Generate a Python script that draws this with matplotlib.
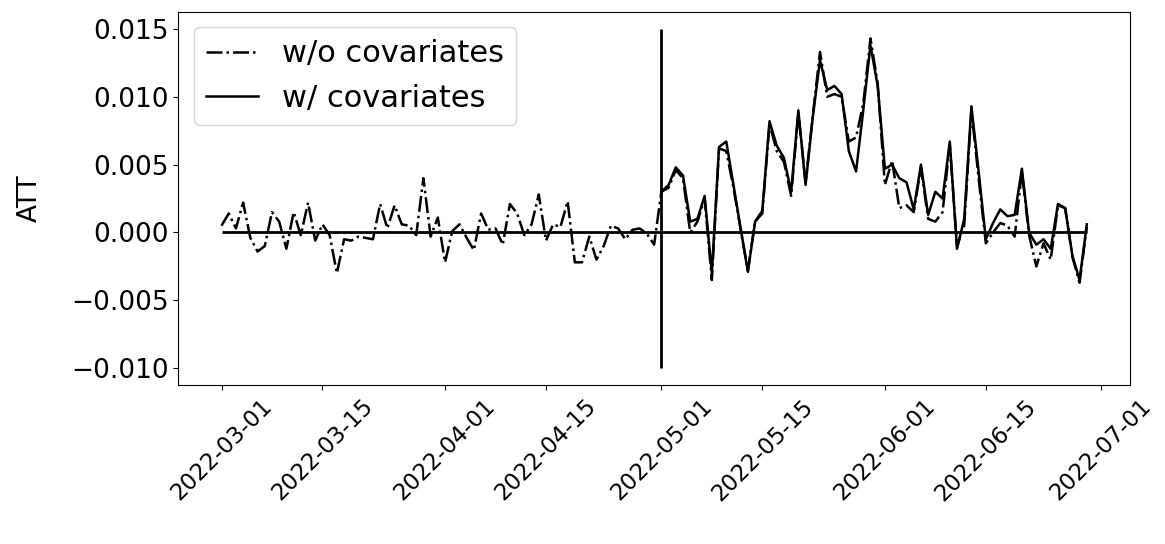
import matplotlib
matplotlib.use('Agg')
import matplotlib.pyplot as plt
import matplotlib.dates as mdates
import numpy as np
import pandas as pd

# daily dates, 2022-03-01 .. 2022-06-29
dates = pd.date_range('2022-03-01', '2022-06-29', freq='D')
treat_date = pd.Timestamp('2022-05-01')

# ATT without covariates (whole period)
att_wo = [
    0.0005, 0.0014, 0.0003, 0.0022, -0.0004, -0.0014, -0.0010, 0.0015, 0.0008, -0.0012,
    0.0015, -0.0002, 0.0022, -0.0006, 0.0006, -0.0002, -0.0030, -0.0005, -0.0006, -0.0003,
    -0.0004, -0.0005, 0.0021, 0.0003, 0.0020, 0.0006, 0.0005, -0.0002, 0.0040, -0.0003,
    0.0011, -0.0022, 0.0001, 0.0006, -0.0004, -0.0013, 0.0014, 0.0002, 0.0003, -0.0009,
    0.0021, 0.0014, -0.0002, 0.0006, 0.0028, -0.0006, 0.0006, 0.0004, 0.0023, -0.0022,
    -0.0022, -0.0003, -0.0020, -0.0010, 0.0005, 0.0003, -0.0005, 0.0002, 0.0003, -0.0001,
    -0.0009,
    # post period
    0.0030, 0.0033, 0.0046, 0.0040, 0.0000, 0.0008, 0.0025, -0.0035, 0.0062, 0.0060,
    0.0033, 0.0002, -0.0028, 0.0008, 0.0014, 0.0080, 0.0060, 0.0052, 0.0027, 0.0088,
    0.0037, 0.0086, 0.0133, 0.0100, 0.0102, 0.0100, 0.0067, 0.0070, 0.0095, 0.0143,
    0.0110, 0.0035, 0.0053, 0.0018, 0.0020, 0.0015, 0.0048, 0.0010, 0.0008, 0.0015,
    0.0065, -0.0010, 0.0005, 0.0090, 0.0040, -0.0008, 0.0000, 0.0007, 0.0005, -0.0003,
    0.0045, -0.0002, -0.0025, -0.0008, -0.0020, 0.0020, 0.0018, -0.0018, -0.0037, 0.0004,
]

# ATT with covariates (post period only, from 2022-05-01)
att_w = [
    0.0030, 0.0035, 0.0048, 0.0042, 0.0008, 0.0010, 0.0027, -0.0030, 0.0063, 0.0067,
    0.0035, 0.0003, -0.0029, 0.0008, 0.0016, 0.0082, 0.0064, 0.0055, 0.0030, 0.0090,
    0.0035, 0.0085, 0.0127, 0.0105, 0.0108, 0.0102, 0.0060, 0.0045, 0.0090, 0.0138,
    0.0108, 0.0047, 0.0050, 0.0040, 0.0037, 0.0017, 0.0050, 0.0013, 0.0030, 0.0025,
    0.0067, -0.0012, 0.0010, 0.0093, 0.0045, -0.0005, 0.0007, 0.0017, 0.0012, 0.0013,
    0.0047, 0.0000, -0.0009, -0.0005, -0.0012, 0.0021, 0.0018, -0.0017, -0.0035, 0.0006,
]
post_dates = dates[dates >= treat_date]

plt.rcParams.update({'font.size': 19})
fig = plt.figure(figsize=(11.65, 5.44), dpi=100)
ax = fig.add_axes([0.153, 0.292, 0.817, 0.686])

ax.plot(dates, att_wo, linestyle='-.', color='black', linewidth=1.8, label='w/o covariates')
ax.plot(post_dates, att_w, linestyle='-', color='black', linewidth=1.8, label='w/ covariates')
ax.hlines(0, dates[0], dates[-1], color='black', linewidth=2)
ax.vlines(treat_date, -0.01, 0.015, color='black', linewidth=2)

ax.set_ylabel('ATT', labelpad=20)
ax.set_yticks([-0.010, -0.005, 0.000, 0.005, 0.010, 0.015])
ax.xaxis.set_major_locator(mdates.DayLocator(bymonthday=[1, 15]))
ax.xaxis.set_major_formatter(mdates.DateFormatter('%Y-%m-%d'))
plt.setp(ax.get_xticklabels(), rotation=45, fontsize=16.5)
ax.legend(loc='upper left', fontsize=22, handlelength=1.7)

fig.savefig('out.png', dpi=100)
